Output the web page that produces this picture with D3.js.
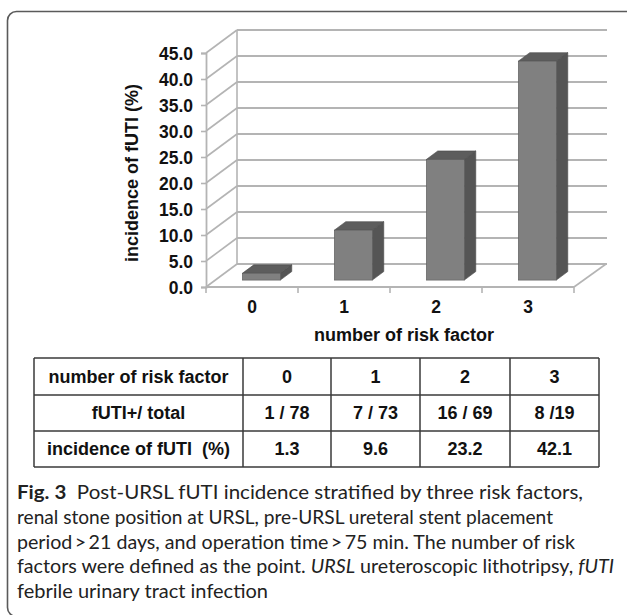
<!DOCTYPE html>
<html>
<head>
<meta charset="utf-8">
<script src="https://cdn.jsdelivr.net/npm/d3@7/dist/d3.min.js"></script>
<style>
  html, body { margin: 0; padding: 0; background: #fff; }
  svg { display: block; }
  .bold { font-family: "Liberation Sans", Arial, sans-serif; font-weight: bold; fill: #111; }
  .cap { font-family: Lato, "Noto Sans", sans-serif; fill: #222; }
</style>
</head>
<body>
<svg id="fig" width="627" height="615"></svg>
<script>
// Risk-factor groups and post-URSL fUTI incidence (%)
const categories = ["0", "1", "2", "3"];
const incidence = [1.3, 9.6, 23.2, 42.1];
const fractionLabels = ["1 / 78", "7 / 73", "16 / 69", "8 /19"];
const yTickValues = [0, 5, 10, 15, 20, 25, 30, 35, 40, 45];
const rowHeaders = ["number of risk factor", "fUTI+/ total", "incidence of fUTI  (%)"];
const captionLines = [
  [{t: "Fig. 3", b: true}, {t: "  Post-URSL fUTI incidence stratified by three risk factors,"}],
  [{t: "renal stone position at URSL, pre-URSL ureteral stent placement"}],
  [{t: "period\u2009>\u200921 days, and operation time\u2009>\u200975 min. The number of risk"}],
  [{t: "factors were defined as the point. "}, {t: "URSL", i: true}, {t: " ureteroscopic lithotripsy, "}, {t: "fUTI", i: true}],
  [{t: "febrile urinary tract infection"}]
];
const captionWidths = [566, 536, 558, 597, 251];

const svg = d3.select("#fig");

// card frame
svg.append("rect")
  .attr("x", 7.5).attr("y", 11.5).attr("width", 660).attr("height", 605)
  .attr("rx", 9).attr("fill", "none").attr("stroke", "#5a5a5a").attr("stroke-width", 1.6);

// 3D chart geometry
const DX = 31, DY = -23;          // depth of the chart box
const x = d3.scaleBand().domain(categories).range([206, 574]).paddingInner(0).paddingOuter(0);
const y = d3.scaleLinear().domain([0, 45]).range([287, 53]);
const grid = svg.append("g");
const gridColor = "#b4b4b4";

// back wall gridlines and side wall diagonals
yTickValues.forEach(v => {
  grid.append("line")
    .attr("x1", 206 + DX).attr("x2", 574 + DX + 2)
    .attr("y1", y(v) + DY).attr("y2", y(v) + DY)
    .attr("stroke", gridColor).attr("stroke-width", 1.8);
  grid.append("line")
    .attr("x1", 206).attr("y1", y(v))
    .attr("x2", 206 + DX).attr("y2", y(v) + DY)
    .attr("stroke", gridColor).attr("stroke-width", 1.6);
});
// back wall left edge
grid.append("line")
  .attr("x1", 206 + DX).attr("x2", 206 + DX)
  .attr("y1", y(0) + DY).attr("y2", y(45) + DY)
  .attr("stroke", gridColor).attr("stroke-width", 1.6);
// floor front edge and right edge
grid.append("line").attr("x1", 206).attr("x2", 574).attr("y1", y(0)).attr("y2", y(0))
  .attr("stroke", gridColor).attr("stroke-width", 1.8);
grid.append("line").attr("x1", 574).attr("y1", y(0)).attr("x2", 574 + DX + 1).attr("y2", y(0) + DY)
  .attr("stroke", gridColor).attr("stroke-width", 1.6);

// value axis
const yAxis = d3.axisLeft(y).tickValues(yTickValues).tickSize(5).tickPadding(8)
  .tickFormat(d3.format(".1f"));
const ya = svg.append("g").attr("transform", "translate(206,0)").call(yAxis);
ya.select(".domain").attr("stroke", gridColor).attr("stroke-width", 1.8);
ya.selectAll(".tick line").attr("stroke", gridColor).attr("stroke-width", 1.6);
ya.selectAll(".tick text").attr("class", "bold").style("font-size", "17.5px").attr("dy", "0.36em");

// category axis
const xAxis = d3.axisBottom(x).tickSize(0).tickPadding(13);
const xa = svg.append("g").attr("transform", `translate(0,${y(0)})`).call(xAxis);
xa.select(".domain").remove();
xa.selectAll(".tick text").attr("class", "bold").style("font-size", "17.5px").attr("dy", "0.72em");
const boundaries = categories.map(c => x(c)).concat([x.range()[1]]);
xa.selectAll("line.sep").data(boundaries).join("line").attr("class", "sep")
  .attr("x1", d => d).attr("x2", d => d).attr("y1", 0).attr("y2", 6)
  .attr("stroke", gridColor).attr("stroke-width", 1.6);

// bars
const barW = 38;
const f0 = 0.3, f1 = 0.67;        // bar depth span within the box
const bars = svg.append("g");
categories.forEach((c, i) => {
  const v = incidence[i];
  const cx = x(c) + x.bandwidth() / 2;
  const xl = cx - barW / 2 + DX * f0, xr = xl + barW;
  const yb = y(0) + DY * f0, yt = y(v) + DY * f0;
  const ddx = DX * (f1 - f0), ddy = DY * (f1 - f0);
  // right side
  bars.append("path")
    .attr("d", `M${xr},${yt} L${xr + ddx},${yt + ddy} L${xr + ddx},${yb + ddy} L${xr},${yb} Z`)
    .attr("fill", "#555555").attr("stroke", "#4a4a4a").attr("stroke-width", 0.6);
  // top
  bars.append("path")
    .attr("d", `M${xl},${yt} L${xl + ddx},${yt + ddy} L${xr + ddx},${yt + ddy} L${xr},${yt} Z`)
    .attr("fill", "#5d5d5d").attr("stroke", "#4a4a4a").attr("stroke-width", 0.6);
  // front
  bars.append("rect")
    .attr("x", xl).attr("y", yt).attr("width", barW).attr("height", yb - yt)
    .attr("fill", "#808080").attr("stroke", "#5a5a5a").attr("stroke-width", 0.6);
});

// axis titles
svg.append("text").attr("class", "bold").style("font-size", "18px")
  .attr("text-anchor", "middle")
  .attr("transform", "translate(138,173) rotate(-90)")
  .text("incidence of fUTI (%)");
svg.append("text").attr("class", "bold").style("font-size", "18px")
  .attr("text-anchor", "middle").attr("x", 404).attr("y", 341)
  .text("number of risk factor");

// summary table
const colEdges = [34, 243, 331, 420, 510, 599];
const rowEdges = [358, 395, 431, 467];
const table = svg.append("g");
const rows = [
  categories,
  fractionLabels,
  incidence.map(d3.format(".1f"))
];
rowEdges.forEach(ry => table.append("line")
  .attr("x1", colEdges[0]).attr("x2", colEdges[colEdges.length - 1]).attr("y1", ry).attr("y2", ry)
  .attr("stroke", "#3a3a3a").attr("stroke-width", 1.5));
colEdges.forEach(cx => table.append("line")
  .attr("x1", cx).attr("x2", cx).attr("y1", rowEdges[0]).attr("y2", rowEdges[rowEdges.length - 1])
  .attr("stroke", "#3a3a3a").attr("stroke-width", 1.5));
rows.forEach((vals, r) => {
  const cyMid = (rowEdges[r] + rowEdges[r + 1]) / 2;
  const cells = [rowHeaders[r]].concat(vals);
  cells.forEach((t, cI) => {
    table.append("text").attr("class", "bold").style("font-size", "18px")
      .attr("text-anchor", "middle")
      .attr("x", (colEdges[cI] + colEdges[cI + 1]) / 2)
      .attr("y", cyMid).attr("dy", "0.36em")
      .attr("xml:space", "preserve")
      .text(t);
  });
});

// caption
const cap = svg.append("g");
captionLines.forEach((parts, li) => {
  const t = cap.append("text").attr("class", "cap")
    .attr("x", 17).attr("y", 499 + li * 24.8)
    .style("font-size", "19px").attr("xml:space", "preserve");
  parts.forEach(p => {
    t.append("tspan").text(p.t)
      .style("font-weight", p.b ? "bold" : "normal")
      .style("font-style", p.i ? "italic" : "normal");
  });
  if (captionWidths[li]) {
    t.attr("textLength", captionWidths[li]).attr("lengthAdjust", "spacingAndGlyphs");
  }
});
</script>
</body>
</html>
